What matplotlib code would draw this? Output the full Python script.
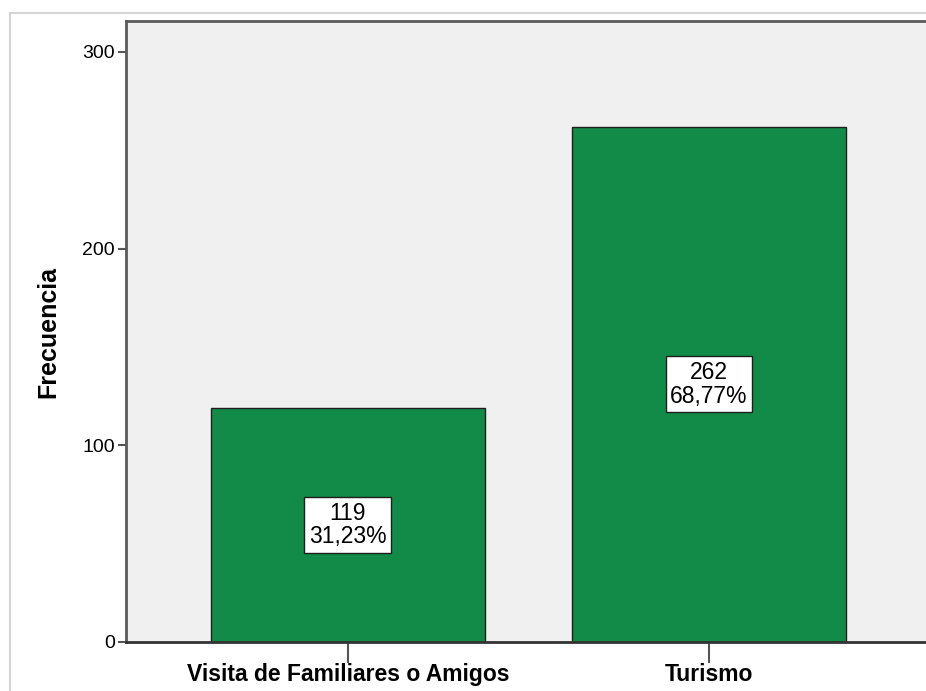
import matplotlib
matplotlib.use('Agg')
import matplotlib.pyplot as plt
from matplotlib.lines import Line2D

# data
categorias = ['Visita de Familiares o Amigos', 'Turismo']
frecuencias = [119, 262]
porcentajes = ['31,23%', '68,77%']
y_ticks = [0, 100, 200, 300]

plt.rcParams['font.family'] = ['Liberation Sans', 'DejaVu Sans']

W, H = 926, 691
fig = plt.figure(figsize=(W / 100, H / 100), dpi=100)

# outer light frame (cut off at right/bottom)
fig.add_artist(Line2D([10 / W, 10 / W], [0, 1 - 13 / H], transform=fig.transFigure, color='#d4d4d4', lw=1.5))
fig.add_artist(Line2D([10 / W, 1], [1 - 13 / H, 1 - 13 / H], transform=fig.transFigure, color='#d4d4d4', lw=1.5))

# plot area - extends slightly past the right edge like in the screenshot
ax = fig.add_axes([126 / W, 1 - 642 / H, (930.7 - 126) / W, 621 / H])
ax.set_facecolor('#f0f0f0')

x = list(range(len(categorias)))
ax.bar(x, frecuencias, width=0.758, color='#128b48', edgecolor='#1e1e1e', linewidth=1.0, zorder=2)

# value boxes in the middle of each bar
for xi, f, p in zip(x, frecuencias, porcentajes):
    ax.text(xi, f / 2, f'{f}\n{p}', ha='center', va='center', fontsize=16.5, linespacing=1.05,
            bbox=dict(boxstyle='square,pad=0.2', facecolor='white', edgecolor='#1e1e1e', linewidth=1.0),
            zorder=3)

ax.set_xlim(-0.614, 1.614)
ax.set_ylim(0, 315.7)
ax.set_yticks(y_ticks)
ax.set_yticklabels([str(t) for t in y_ticks], fontsize=14)
ax.set_xticks(x)
ax.set_xticklabels(categorias, fontsize=16.5, fontweight='bold')
ax.tick_params(axis='y', direction='out', length=6, width=1.5, color='#555555', pad=2)
ax.tick_params(axis='x', direction='out', length=15, width=1.5, color='#555555', pad=0)

ax.set_ylabel('Frecuencia', fontsize=18, fontweight='bold', labelpad=16)

for side in ['left', 'top']:
    ax.spines[side].set_color('#5a5a5a')
    ax.spines[side].set_linewidth(2)
ax.spines['bottom'].set_color('#333333')
ax.spines['bottom'].set_linewidth(2)
ax.spines['right'].set_visible(False)

fig.savefig('out.png', dpi=100)
